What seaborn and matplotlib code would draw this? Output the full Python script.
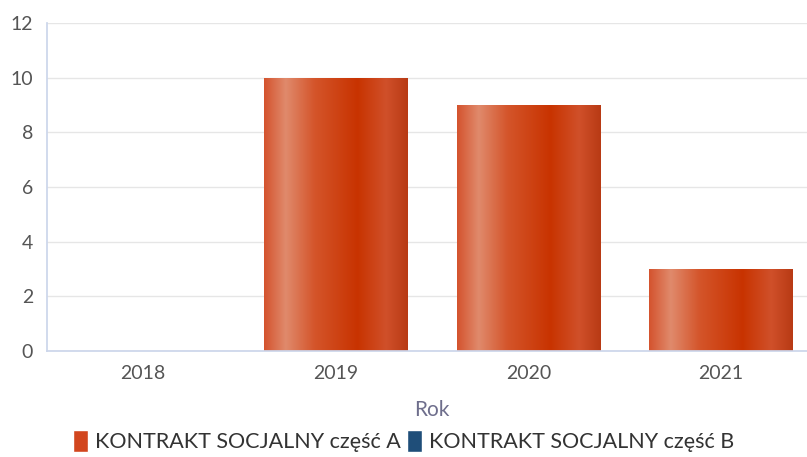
import numpy as np
import pandas as pd
import matplotlib
matplotlib.use('Agg')
import matplotlib.pyplot as plt
import seaborn as sns
from matplotlib.colors import LinearSegmentedColormap
from matplotlib.patches import Patch

# Données
years = ['2018', '2019', '2020', '2021']
part_a = [0, 10, 9, 3]
part_b = [0, 0, 0, 0]
series_names = ['KONTRAKT SOCJALNY część A', 'KONTRAKT SOCJALNY część B']

sns.set_theme(style="white")
plt.rcParams['font.family'] = ['Lato', 'DejaVu Sans']

df = pd.DataFrame({
    'Rok': years * 2,
    'Wartość': part_a + part_b,
    'Seria': [series_names[0]] * 4 + [series_names[1]] * 4,
})

fig = plt.figure(figsize=(8.07, 4.57), dpi=100)
ax = fig.add_axes([0.058, 0.232, 0.955, 0.718])

sns.barplot(data=df, x='Rok', y='Wartość', hue='Seria', dodge=False,
            palette=['#d2461e', '#1f4e79'], width=0.745, legend=False, ax=ax)

# dégradé horizontal façon highcharts
grad_a = LinearSegmentedColormap.from_list('ga', [
    (0.0, '#d4532e'), (0.15, '#e08a6c'), (0.35, '#d4552b'),
    (0.65, '#c83300'), (0.85, '#d0502a'), (1.0, '#b83a14')])
grad = np.linspace(0, 1, 256).reshape(1, -1)
for p in list(ax.patches):
    h = p.get_height()
    if h <= 0:
        continue
    x0, w = p.get_x(), p.get_width()
    im = ax.imshow(grad, cmap=grad_a, aspect='auto',
                   extent=[x0, x0 + w, 0, h], zorder=p.get_zorder() + 0.1)
    im.set_clip_path(p)
    p.set_facecolor('none')
    p.set_edgecolor('none')

ax.set_xlim(-0.5, 3.5)
ax.set_ylim(0, 12)
ax.set_yticks(range(0, 13, 2))
ax.yaxis.grid(True, color='#e6e6e6', linewidth=1)
ax.set_axisbelow(True)
for s in ['top', 'right']:
    ax.spines[s].set_visible(False)
ax.spines['left'].set_color('#ccd6eb')
ax.spines['bottom'].set_color('#ccd6eb')
ax.tick_params(axis='both', length=0, labelsize=14, colors='#555555', pad=10)
ax.tick_params(axis='y', pad=10)
ax.set_ylabel('')
ax.set_xlabel('Rok', fontsize=15, color='#6e6e8c', labelpad=13)

handles = [Patch(facecolor='#d2461e'), Patch(facecolor='#1f4e79')]
fig.legend(handles, series_names, loc='center', bbox_to_anchor=(0.5, 0.035),
           ncol=2, frameon=False, fontsize=15.5, handlelength=0.7, handleheight=1.2,
           handletextpad=0.3, columnspacing=0.3, labelcolor='#333333')

plt.savefig('out.png', dpi=100)
